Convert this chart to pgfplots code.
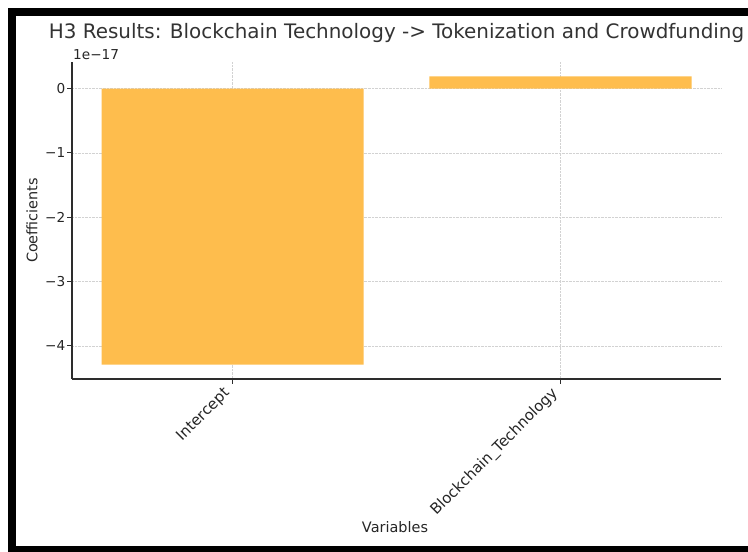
\documentclass[border=0pt]{standalone}
\usepackage{fontspec}
\setmainfont{DejaVu Sans}
\usepackage{pgfplots}
\pgfplotsset{compat=1.18}
\definecolor{barc}{RGB}{254,189,77}
\definecolor{spine}{RGB}{45,45,45}
\definecolor{gridc}{RGB}{210,210,210}
\begin{document}
\begin{tikzpicture}[x=1bp,y=1bp]
\path[use as bounding box] (0,0) rectangle (748,552);
\begin{scope}
\clip (0,0) rectangle (748,552);
\fill[white] (0,0) rectangle (748,552);
\begin{axis}[
  at={(72bp,173bp)}, anchor=south west, scale only axis,
  width=649bp, height=317bp,
  xmin=-0.49, xmax=1.49, ymin=-4.514, ymax=0.414,
  ybar, bar width=0.8,
  axis x line*=bottom, axis y line*=left,
  axis line style={spine, line width=1.3bp},
  tick align=outside, major tick length=5bp,
  tick style={spine, line width=0.9bp},
  xtick={0,1}, xticklabels={Intercept,Blockchain\_Technology},
  ytick={-4,-3,-2,-1,0}, yticklabels={−4,−3,−2,−1,0},
  xticklabel style={rotate=45, anchor=north east, inner sep=1bp, xshift=-7.6bp, yshift=7.1bp, font=\fontsize{15}{17}\selectfont, text=black!85},
  yticklabel style={font=\fontsize{13.7}{15}\selectfont, text=black!85, inner sep=1.5bp},
  grid=major, grid style={densely dotted, gridc, line width=0.7bp},
  clip=false,
]
\addplot[fill=barc, draw=none] coordinates {(0,-4.29) (1,0.19)};
\end{axis}
\node[anchor=base, font=\fontsize{20}{22}\selectfont, text=black!80] at (396.5,513.5) {H3 Results: Blockchain Technology -> Tokenization and Crowdfunding};
\node[anchor=base west, inner sep=0, font=\fontsize{13.7}{15}\selectfont, text=black!85] at (73,492.7) {1e−17};
\node[rotate=90, font=\fontsize{14.5}{16}\selectfont, text=black!85] at (32,331.5) {Coefficients};
\node[anchor=base, inner sep=0, font=\fontsize{14.5}{16}\selectfont, text=black!85] at (395,19) {Variables};
\fill[black] (8,536) rectangle (760,544);
\fill[black] (8,0) rectangle (16,544);
\fill[black] (8,0) rectangle (760,6);
\end{scope}
\end{tikzpicture}
\end{document}
